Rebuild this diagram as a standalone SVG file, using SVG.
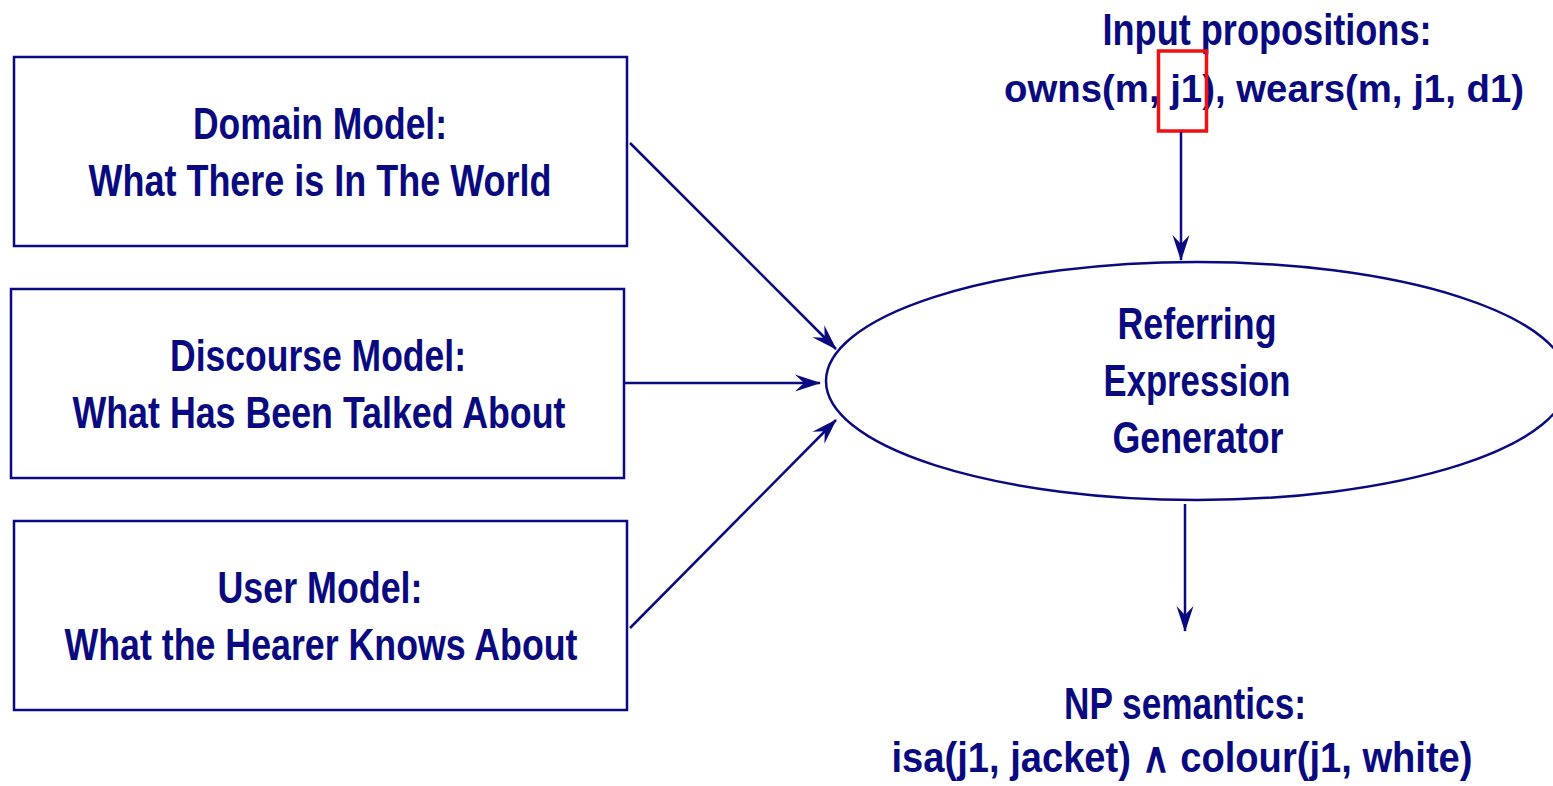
<svg xmlns="http://www.w3.org/2000/svg" width="1553" height="786" viewBox="0 0 1553 786">
<style>
.box{fill:none;stroke:#0a0a80;stroke-width:2.5}
.t{font-family:"Liberation Sans",Arial,sans-serif;font-weight:bold;font-size:44px;fill:#0a0a80;text-anchor:middle}
.s{font-size:42px}
.xs{font-size:39px}
.c{fill:none;stroke:#0a0a80;stroke-width:2.5}
</style>
<defs>
<marker id="ah" markerUnits="userSpaceOnUse" viewBox="-27 -10 29 20" refX="0" refY="0" markerWidth="29" markerHeight="20" orient="auto">
<path d="M1,0 L-25,-8.5 L-16,0 L-25,8.5 Z" fill="#0a0a80"/>
</marker>
</defs>
<rect width="1553" height="786" fill="#fff"/>
<g id="domain">
<rect class="box" x="14" y="57" width="613" height="189"/>
<text class="t" x="320" y="139" textLength="254" lengthAdjust="spacingAndGlyphs">Domain Model:</text>
<text class="t" x="320" y="196" textLength="463" lengthAdjust="spacingAndGlyphs">What There is In The World</text>
</g>
<g id="discourse">
<rect class="box" x="11" y="289" width="613" height="189"/>
<text class="t" x="318" y="371" textLength="296" lengthAdjust="spacingAndGlyphs">Discourse Model:</text>
<text class="t" x="319" y="428" textLength="493" lengthAdjust="spacingAndGlyphs">What Has Been Talked About</text>
</g>
<g id="user">
<rect class="box" x="14" y="521" width="613" height="189"/>
<text class="t" x="320" y="603" textLength="205" lengthAdjust="spacingAndGlyphs">User Model:</text>
<text class="t" x="321" y="660" textLength="513" lengthAdjust="spacingAndGlyphs">What the Hearer Knows About</text>
</g>
<g id="generator">
<ellipse class="box" cx="1197" cy="381" rx="371" ry="119"/>
<text class="t" x="1197" y="339" textLength="159" lengthAdjust="spacingAndGlyphs">Referring</text>
<text class="t" x="1197" y="396" textLength="187" lengthAdjust="spacingAndGlyphs">Expression</text>
<text class="t" x="1198" y="453" textLength="171" lengthAdjust="spacingAndGlyphs">Generator</text>
</g>
<g id="input">
<text class="t" x="1267" y="45" textLength="329" lengthAdjust="spacingAndGlyphs">Input propositions:</text>
<text class="t xs" x="1264" y="102" textLength="520" lengthAdjust="spacingAndGlyphs">owns(m, j1), wears(m, j1, d1)</text>
<rect x="1158.5" y="51" width="48" height="80" fill="none" stroke="#ee1111" stroke-width="3.5"/>
</g>
<g id="output">
<text class="t" x="1185" y="719" textLength="242" lengthAdjust="spacingAndGlyphs">NP semantics:</text>
<text class="t s" x="1182" y="772" textLength="581" lengthAdjust="spacingAndGlyphs">isa(j1, jacket) ∧ colour(j1, white)</text>
</g>
<g id="connectors">
<line class="c" x1="630" y1="143" x2="836" y2="349" marker-end="url(#ah)"/>
<line class="c" x1="624" y1="383" x2="820" y2="383" marker-end="url(#ah)"/>
<line class="c" x1="630" y1="628" x2="836" y2="420" marker-end="url(#ah)"/>
<line class="c" x1="1181" y1="132" x2="1181" y2="260" marker-end="url(#ah)"/>
<line class="c" x1="1185" y1="504" x2="1185" y2="631" marker-end="url(#ah)"/>
</g>
</svg>
